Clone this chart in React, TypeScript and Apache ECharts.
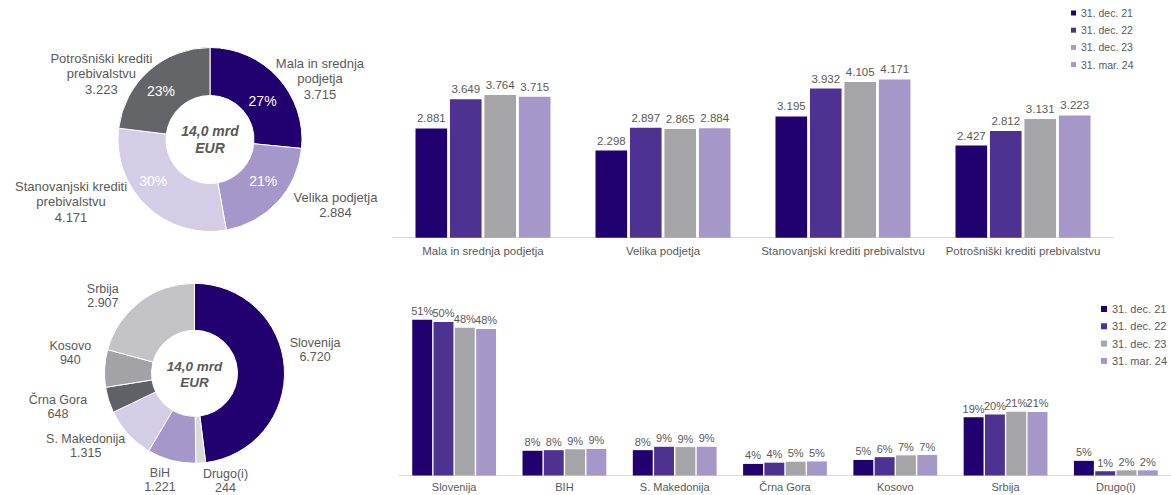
import React, { useEffect, useRef } from 'react';
import * as echarts from 'echarts';

// ---------- data ----------
const seriesNames = ['31. dec. 21', '31. dec. 22', '31. dec. 23', '31. mar. 24'];

const segmentCategories = [
  'Mala in srednja podjetja',
  'Velika podjetja',
  'Stanovanjski krediti prebivalstvu',
  'Potrošniški krediti prebivalstvu',
];
const segmentPieLabels = [
  'Mala in srednja\npodjetja',
  'Velika podjetja',
  'Stanovanjski krediti\nprebivalstvu',
  'Potrošniški krediti\nprebivalstvu',
];
// EUR million
const segmentDec21 = [2881, 2298, 3195, 2427];
const segmentDec22 = [3649, 2897, 3932, 2812];
const segmentDec23 = [3764, 2865, 4105, 3131];
const segmentMar24 = [3715, 2884, 4171, 3223];

const countryCategories = ['Slovenija', 'BIH', 'S. Makedonija', 'Črna Gora', 'Kosovo', 'Srbija', 'Drugo(i)'];
// share in %
const countryDec21 = [51.0, 8.1, 8.3, 3.8, 5.1, 19.1, 4.8];
const countryDec22 = [50.3, 8.3, 9.4, 4.2, 6.0, 20.0, 1.4];
const countryDec23 = [48.4, 8.6, 9.3, 4.5, 6.6, 20.9, 1.7];
const countryMar24 = [48.0, 8.7, 9.4, 4.6, 6.7, 20.8, 1.7];

const countryPieNames = ['Slovenija', 'Drugo(i)', 'BiH', 'S. Makedonija', 'Črna Gora', 'Kosovo', 'Srbija'];
const countryPieValues = [6720, 244, 1221, 1315, 648, 940, 2907];

const centerText = '14,0 mrd\nEUR';

// ---------- styles ----------
const FONT = '"Liberation Sans", Arial, sans-serif';
const TXT = '#595959';
const barColors = ['#21006f', '#4e3291', '#a5a5a8', '#a697c9'];
const segmentPieColors = ['#21006f', '#a597c9', '#d4cde6', '#636569'];
const countryPieColors = ['#21006f', '#d9d9d9', '#a597c9', '#d4cde6', '#5f6166', '#a3a3a6', '#c3c3c5'];

const pie1Center = [210, 139.5];
const pie2Center = [194.5, 373.3];

const pie1OuterOffsets = [[36.8, 1.3], [52.9, 3.1], [-70.7, -4.7], [-42.7, 3]];
const pie1InnerOffsets = [[0, 9], [1, -7], [-8, -10], [-2, 4.5]];
const pie2OuterOffsets = [[25.7, -18.1], [19.7, 17.5], [-6.5, 19.5], [-37.5, 11.6], [-45.6, 7.4], [-29.3, -15.1], [-32, -6]];

const fmtThousands = (v: number) => (v >= 1000 ? (v / 1000).toFixed(3) : String(v));

const relayout = (cx: number, offsets: number[][], inside: boolean) => (p: any) => {
  const r = p.labelRect;
  const mid = r.x + r.width / 2;
  const anchorX = inside ? mid : mid > cx ? r.x : r.x + r.width;
  const off = offsets[p.dataIndex] || [0, 0];
  return {
    x: anchorX + off[0],
    y: r.y + r.height / 2 + off[1],
    align: 'center',
    verticalAlign: 'middle',
  };
};

export default function App() {
  const ref = useRef<HTMLDivElement>(null);

  useEffect(() => {
    if (!ref.current) return;
    const chart = echarts.init(ref.current, undefined, { renderer: 'svg' });

    const topSets = [segmentDec21, segmentDec22, segmentDec23, segmentMar24];
    const bottomSets = [countryDec21, countryDec22, countryDec23, countryMar24];

    const topBars = topSets.map((d, i) => ({
      type: 'bar',
      name: seriesNames[i],
      xAxisIndex: 0,
      yAxisIndex: 0,
      data: d,
      barGap: '9%',
      barCategoryGap: '25%',
      itemStyle: { color: barColors[i] },
      label: {
        show: true,
        position: 'top',
        distance: 4,
        color: TXT,
        fontSize: 11.5,
        fontFamily: FONT,
        formatter: (p: any) => fmtThousands(p.value),
      },
    }));

    const bottomBars = bottomSets.map((d, i) => ({
      type: 'bar',
      name: seriesNames[i],
      xAxisIndex: 1,
      yAxisIndex: 1,
      data: d,
      barGap: '7%',
      barCategoryGap: '24%',
      itemStyle: { color: barColors[i] },
      label: {
        show: true,
        position: 'top',
        distance: 3,
        color: TXT,
        fontSize: 11,
        fontFamily: FONT,
        formatter: (p: any) => `${Math.round(p.value)}%`,
      },
    }));

    const segPieData = segmentCategories.map((n, i) => ({
      name: n,
      value: segmentMar24[i],
      itemStyle: { color: segmentPieColors[i] },
    }));
    const countryPieData = countryPieNames.map((n, i) => ({
      name: n,
      value: countryPieValues[i],
      itemStyle: { color: countryPieColors[i] },
    }));

    const option: any = {
      animation: false,
      textStyle: { fontFamily: FONT },
      legend: [
        {
          data: seriesNames,
          orient: 'vertical',
          left: 1071,
          top: 7.5,
          padding: 0,
          itemWidth: 5,
          itemHeight: 5,
          itemGap: 6.2,
          icon: 'rect',
          selectedMode: false,
          textStyle: { color: TXT, fontSize: 10.5, fontFamily: FONT },
        },
        {
          data: seriesNames,
          orient: 'vertical',
          left: 1101,
          top: 303.5,
          padding: 0,
          itemWidth: 6,
          itemHeight: 6,
          itemGap: 6.3,
          icon: 'rect',
          selectedMode: false,
          textStyle: { color: TXT, fontSize: 11, fontFamily: FONT },
        },
      ],
      grid: [
        { left: 393, right: 58, top: 48, bottom: 257.3 },
        { left: 399, right: -4, top: 292.3, bottom: 19.5 },
      ],
      xAxis: [
        {
          type: 'category',
          gridIndex: 0,
          data: segmentCategories,
          axisLine: { lineStyle: { color: '#d9d9d9' } },
          axisTick: { show: false },
          axisLabel: { color: TXT, fontSize: 11.5, fontFamily: FONT, margin: 7, interval: 0 },
        },
        {
          type: 'category',
          gridIndex: 1,
          data: countryCategories,
          axisLine: { lineStyle: { color: '#d9d9d9' } },
          axisTick: { show: false },
          axisLabel: { color: TXT, fontSize: 11, fontFamily: FONT, margin: 6, interval: 0 },
        },
      ],
      yAxis: [
        { type: 'value', gridIndex: 0, min: 0, max: 5000, show: false },
        { type: 'value', gridIndex: 1, min: 0, max: 60, show: false },
      ],
      graphic: [
        {
          type: 'text',
          x: pie1Center[0],
          y: pie1Center[1],
          style: {
            text: centerText,
            align: 'center',
            verticalAlign: 'middle',
            fontSize: 14,
            fontWeight: 'bold',
            fontStyle: 'italic',
            fontFamily: FONT,
            lineHeight: 16.5,
            fill: TXT,
          },
        },
        {
          type: 'text',
          x: pie2Center[0],
          y: pie2Center[1] + 1,
          style: {
            text: centerText,
            align: 'center',
            verticalAlign: 'middle',
            fontSize: 13.5,
            fontWeight: 'bold',
            fontStyle: 'italic',
            fontFamily: FONT,
            lineHeight: 15.5,
            fill: TXT,
          },
        },
      ],
      series: [
        ...topBars,
        ...bottomBars,
        {
          type: 'pie',
          center: pie1Center,
          radius: [44, 92],
          startAngle: 90,
          clockwise: true,
          silent: true,
          avoidLabelOverlap: false,
          data: segPieData,
          itemStyle: { borderColor: '#fff', borderWidth: 1 },
          label: {
            show: true,
            position: 'inside',
            color: '#ffffff',
            fontSize: 14,
            fontFamily: FONT,
            formatter: (p: any) => `${Math.round(p.percent)}%`,
          },
          labelLine: { show: false },
          labelLayout: relayout(pie1Center[0], pie1InnerOffsets, true),
          emphasis: { disabled: true },
        },
        {
          type: 'pie',
          center: pie1Center,
          radius: [44, 92],
          startAngle: 90,
          clockwise: true,
          silent: true,
          avoidLabelOverlap: false,
          data: segPieData.map((d) => ({ ...d, itemStyle: { color: 'rgba(0,0,0,0)' } })),
          itemStyle: { borderWidth: 0 },
          label: {
            show: true,
            position: 'outside',
            color: TXT,
            fontSize: 13,
            lineHeight: 15.5,
            fontFamily: FONT,
            formatter: (p: any) => `${segmentPieLabels[p.dataIndex]}\n${fmtThousands(p.value)}`,
          },
          labelLine: { show: false, length: 0, length2: 0 },
          labelLayout: relayout(pie1Center[0], pie1OuterOffsets, false),
          emphasis: { disabled: true },
        },
        {
          type: 'pie',
          center: pie2Center,
          radius: [43, 90],
          startAngle: 90,
          clockwise: true,
          silent: true,
          avoidLabelOverlap: false,
          data: countryPieData,
          itemStyle: { borderColor: '#fff', borderWidth: 1 },
          label: {
            show: true,
            position: 'outside',
            color: TXT,
            fontSize: 12.5,
            lineHeight: 14,
            fontFamily: FONT,
            formatter: (p: any) => `${p.name}\n${fmtThousands(p.value)}`,
          },
          labelLine: { show: false, length: 0, length2: 0 },
          labelLayout: relayout(pie2Center[0], pie2OuterOffsets, false),
          emphasis: { disabled: true },
        },
      ],
    };

    chart.setOption(option);
    return () => chart.dispose();
  }, []);

  return (
    <div
      ref={ref}
      style={{ position: 'fixed', left: 0, top: 0, width: 1171, height: 495, background: '#fff' }}
    />
  );
}
